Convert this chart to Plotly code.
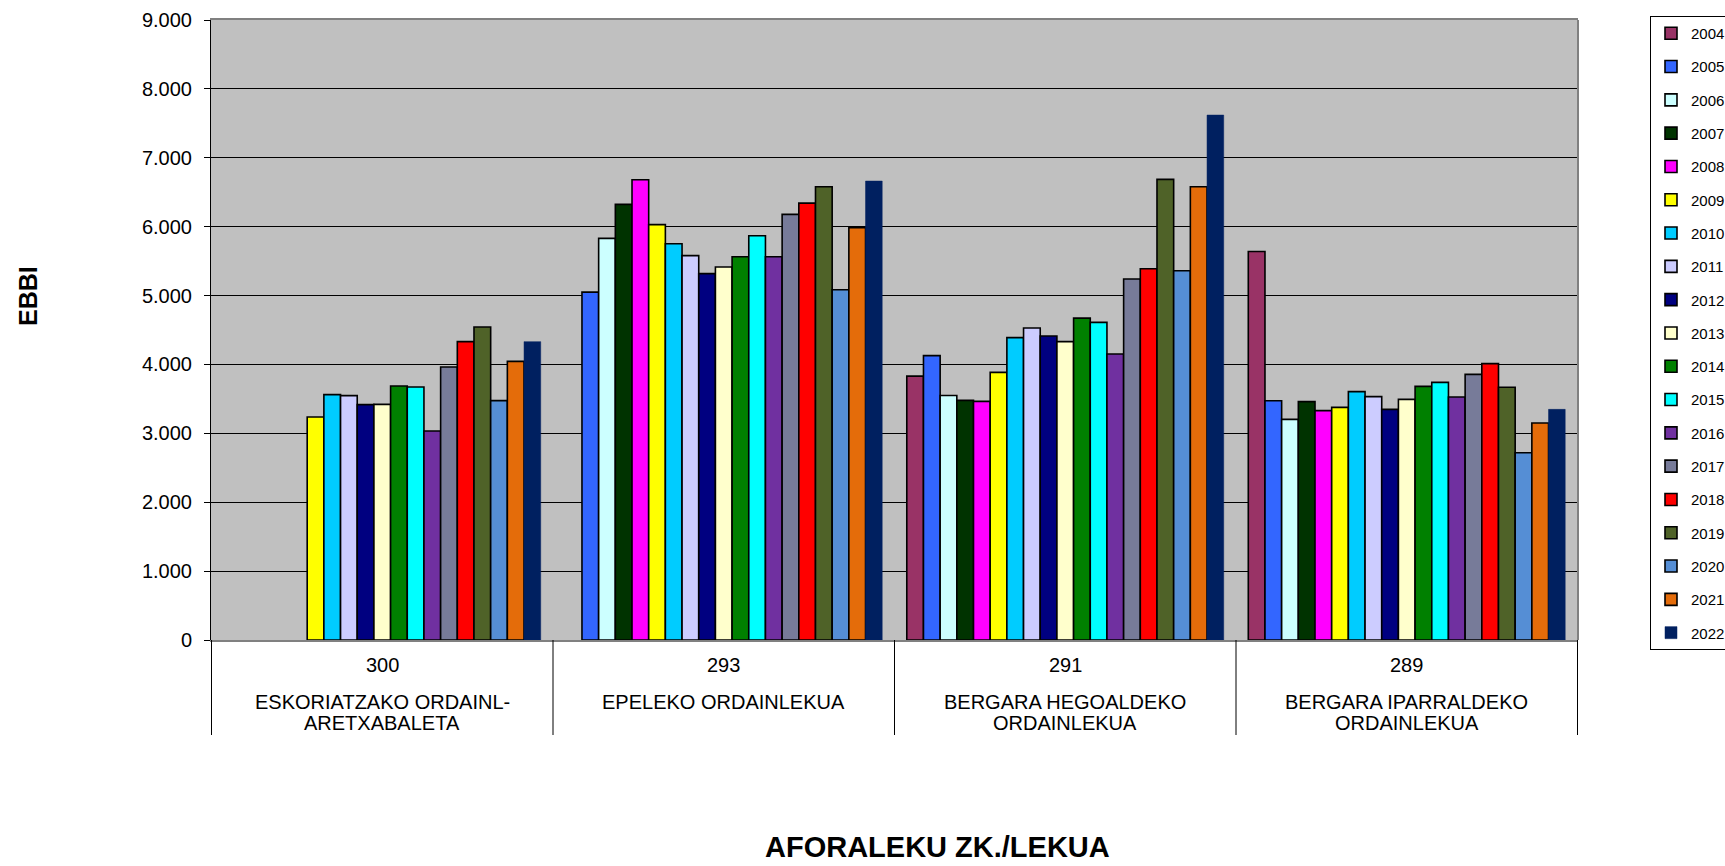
import plotly.graph_objects as go

# ---- data ----
years = ["2004", "2005", "2006", "2007", "2008", "2009", "2010", "2011", "2012", "2013",
         "2014", "2015", "2016", "2017", "2018", "2019", "2020", "2021", "2022"]
codes = ["300", "293", "291", "289"]
names_line1 = ["ESKORIATZAKO ORDAINL-", "EPELEKO ORDAINLEKUA",
               "BERGARA HEGOALDEKO", "BERGARA IPARRALDEKO"]
names_line2 = ["ARETXABALETA", "", "ORDAINLEKUA", "ORDAINLEKUA"]

# EBBI per year (2004..2022) for each station
st_300 = [None, None, None, None, None, 3237, 3562, 3547, 3417, 3421,
          3687, 3672, 3033, 3962, 4331, 4543, 3475, 4045, 4331]
st_293 = [None, 5050, 5830, 6324, 6682, 6029, 5753, 5579, 5318, 5414,
          5564, 5869, 5564, 6178, 6342, 6580, 5085, 5985, 6662]
st_291 = [3830, 4128, 3550, 3479, 3464, 3885, 4389, 4528, 4412, 4331,
          4673, 4611, 4151, 5240, 5390, 6687, 5361, 6580, 7620]
st_289 = [5640, 3474, 3203, 3460, 3329, 3377, 3605, 3533, 3348, 3493,
          3682, 3740, 3527, 3856, 4012, 3668, 2719, 3149, 3348]

colors = ["#993366", "#3366FF", "#CCFFFF", "#003300", "#FF00FF", "#FFFF00", "#00CCFF",
          "#CCCCFF", "#000080", "#FFFFCC", "#008000", "#00FFFF", "#7030A0", "#777B99",
          "#FF0000", "#4F6228", "#558ED5", "#E46C0A", "#002060"]

stations = [st_300, st_293, st_291, st_289]

fig = go.Figure()
for i, yr in enumerate(years):
    vals = [s[i] for s in stations]
    last = (i == len(years) - 1)
    fig.add_trace(go.Bar(
        x=codes, y=vals, name=yr, legendgroup=yr,
        marker=dict(color=colors[i],
                    line=dict(color=colors[i] if last else "black", width=0.5 if last else 1.6)),
    ))

FONT = "Liberation Sans, Arial, sans-serif"
PH = 620.0   # plot height px
PW = 1367.0  # plot width px

shapes = []
for b in [-0.5, 0.5, 1.5, 2.5, 3.5]:
    shapes.append(dict(type="line", xref="x", yref="paper", x0=b, x1=b, y0=-(735 - 640) / PH, y1=0,
                       line=dict(color="black", width=1)))
shapes.append(dict(type="line", xref="paper", yref="paper", x0=1, x1=1, y0=0, y1=1,
                   line=dict(color="#808080", width=2)))

annotations = []
for i, c in enumerate(codes):
    annotations.append(dict(xref="x", yref="paper", x=i, y=-(665 - 640) / PH, text=c, showarrow=False,
                            font=dict(family=FONT, size=20, color="black"),
                            xanchor="center", yanchor="middle"))
    annotations.append(dict(xref="x", yref="paper", x=i, y=-(702 - 640) / PH, text=names_line1[i],
                            showarrow=False, font=dict(family=FONT, size=20, color="black"),
                            xanchor="center", yanchor="middle"))
    if names_line2[i]:
        annotations.append(dict(xref="x", yref="paper", x=i, y=-(723 - 640) / PH, text=names_line2[i],
                                showarrow=False, font=dict(family=FONT, size=20, color="black"),
                                xanchor="center", yanchor="middle"))
annotations.append(dict(xref="paper", yref="paper", x=(937 - 211) / PW, y=-(847 - 640) / PH,
                        text="<b>AFORALEKU ZK./LEKUA</b>", showarrow=False,
                        font=dict(family=FONT, size=29, color="black"),
                        xanchor="center", yanchor="middle"))
annotations.append(dict(xref="paper", yref="paper", x=(28 - 211) / PW, y=(640 - 296) / PH,
                        text="<b>EBBI</b>", showarrow=False, textangle=-90,
                        font=dict(family=FONT, size=25, color="black"),
                        xanchor="center", yanchor="middle"))

fig.update_layout(
    width=1725, height=866,
    margin=dict(l=211, r=147, t=20, b=226, autoexpand=False),
    paper_bgcolor="white", plot_bgcolor="#C0C0C0",
    barmode="group", bargap=0.072, bargroupgap=0,
    separators=",.",
    font=dict(family=FONT, size=20, color="black"),
    showlegend=True,
    legend=dict(x=(1650 - 211) / PW, y=(640 - 16) / PH, xanchor="left", yanchor="top",
                bgcolor="white", bordercolor="black", borderwidth=1,
                font=dict(family=FONT, size=15, color="black"),
                tracegroupgap=10.8, traceorder="grouped", maxheight=760),
    shapes=shapes, annotations=annotations,
)
fig.update_xaxes(showticklabels=False, ticks="", showline=True, linecolor="#808080",
                 linewidth=1.5, mirror=True, showgrid=False, zeroline=False)
fig.update_yaxes(range=[0, 9000], dtick=1000, tickformat=",d", showgrid=True,
                 gridcolor="black", gridwidth=1, zeroline=False, showline=True,
                 linecolor="black", linewidth=1, ticks="outside", ticklen=6,
                 tickcolor="black", ticklabelstandoff=8,
                 tickfont=dict(family=FONT, size=20, color="black"))

fig.write_html("out.html", config={"displayModeBar": False},
               post_script="document.body.style.margin='0';")
